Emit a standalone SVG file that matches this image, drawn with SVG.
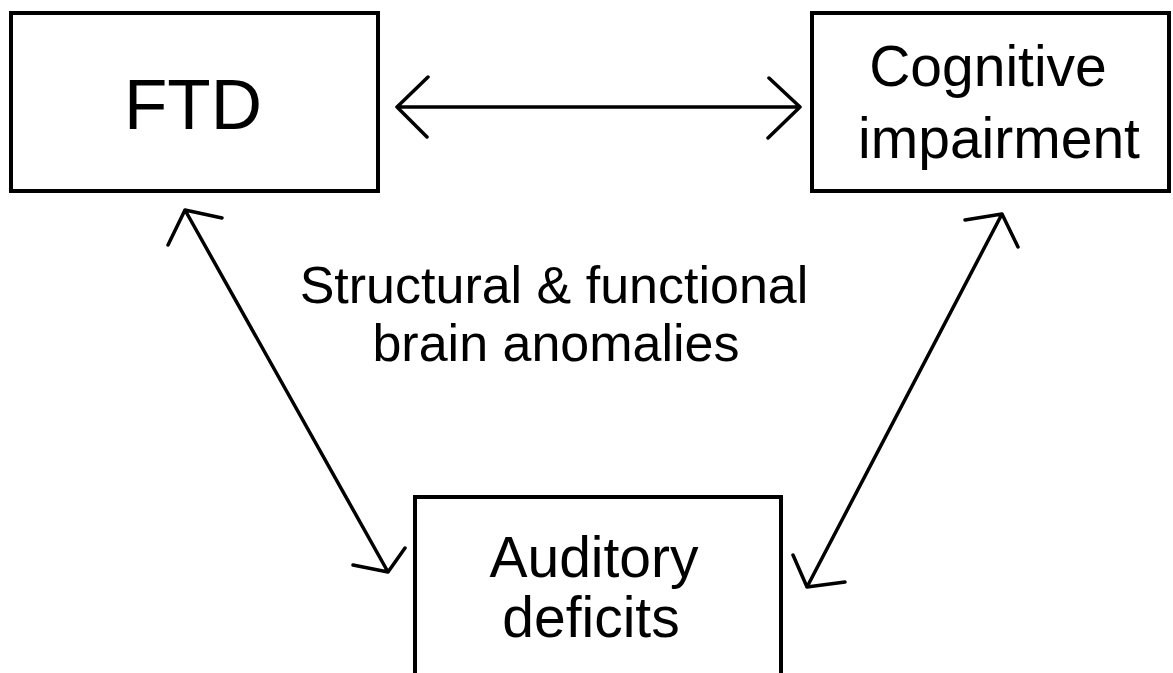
<svg xmlns="http://www.w3.org/2000/svg" width="1173" height="673" viewBox="0 0 1173 673">
<style>
.box{fill:#fff;stroke:#000;stroke-width:4}
.t{font-family:"Liberation Sans",Arial,sans-serif;fill:#000;text-anchor:middle}
.c{fill:none;stroke:#000;stroke-width:3.5;stroke-linecap:round;stroke-linejoin:round}
</style>
<rect width="1173" height="673" fill="#fff"/>
<g id="ftd">
<rect class="box" x="11" y="13" width="367" height="178"/>
<text class="t" x="193" y="129" font-size="71">FTD</text>
</g>
<g id="cognitive">
<rect class="box" x="812" y="13" width="357" height="178"/>
<text class="t" x="988" y="86" font-size="57">Cognitive</text>
<text class="t" x="999" y="158" font-size="57">impairment</text>
</g>
<g id="auditory">
<rect class="box" x="415" y="497" width="366" height="200"/>
<text class="t" x="594" y="577" font-size="57">Auditory</text>
<text class="t" x="591" y="637" font-size="57">deficits</text>
</g>
<g id="label">
<text class="t" x="554" y="303" font-size="52">Structural &amp; functional</text>
<text class="t" x="556" y="361" font-size="52">brain anomalies</text>
</g>
<g id="connectors">
<path class="c" d="M397 107H800M428 77L397 107L427 137M769 78L800 107L768 138"/>
<path class="c" d="M185 210L388 572M222 218L185 210L168 245M405 548L388 572L353 565"/>
<path class="c" d="M1002 214L807 587M965 220L1002 214L1018 247M793 555L807 587L845 582"/>
</g>
</svg>
